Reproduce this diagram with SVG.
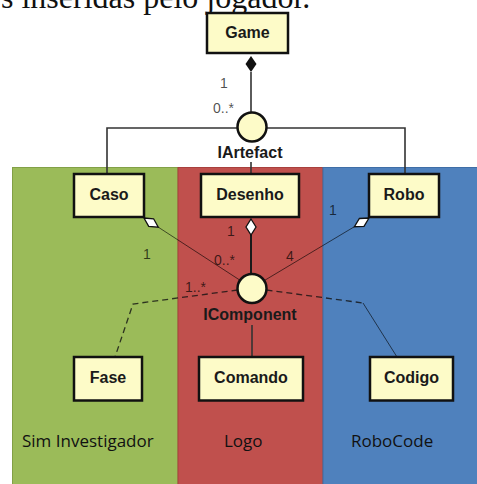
<svg xmlns="http://www.w3.org/2000/svg" width="477" height="484" viewBox="0 0 477 484">
  <style>
    .cls rect { fill: #fdfbc8; stroke: #111; stroke-width: 2.5; }
    .cls text { font-family: "Liberation Sans", Arial, sans-serif; font-weight: bold; font-size: 16px; fill: #1a1a1a; text-anchor: middle; }
    .iface circle { fill: #fdfbc8; stroke: #111; stroke-width: 2.5; }
    .iface text { font-family: "Liberation Sans", Arial, sans-serif; font-weight: bold; font-size: 16px; fill: #1a1a1a; text-anchor: middle; }
    .mult { font-family: "Liberation Sans", Arial, sans-serif; font-size: 14px; fill: #000; fill-opacity: 0.7; }
    .lane { font-family: "Open Sans", "Liberation Sans", sans-serif; font-size: 17px; fill: #111; }
    .solid { fill: none; stroke: #333; stroke-width: 1.6; }
    .thin { fill: none; stroke: #000; stroke-opacity: 0.6; stroke-width: 1; }
    .dash { fill: none; stroke: #111; stroke-opacity: 0.8; stroke-width: 1.3; stroke-dasharray: 6 4; }
  </style>

  <!-- caption line cut at the top -->
  <text x="1" y="8" font-family="'Liberation Serif', 'Times New Roman', serif" font-size="32" fill="#111">s inseridas pelo jogador.</text>

  <!-- coloured lanes -->
  <g id="lanes">
    <rect x="12.5" y="167.5" width="165.5" height="320" fill="#9bbb59" stroke="#82a046" stroke-width="1"/>
    <rect x="178" y="167.5" width="145" height="320" fill="#c0504d" stroke="#a8403d" stroke-width="1"/>
    <rect x="323" y="167.5" width="160" height="320" fill="#4f81bd" stroke="#3f6ea6" stroke-width="1"/>
    <text class="lane" x="22" y="447">Sim Investigador</text>
    <text class="lane" x="224" y="447">Logo</text>
    <text class="lane" x="351" y="447">RoboCode</text>
  </g>

  <!-- connectors -->
  <g id="connectors">
    <!-- Game composition -->
    <line class="solid" x1="251" y1="72" x2="251" y2="113"/>
    <polygon points="251,56 256.5,64 251,72 245.5,64" fill="#111"/>
    <!-- IArtefact realizations -->
    <polyline class="solid" points="107,174 107,128 405,128 405,174"/>
    <line class="solid" x1="251" y1="162" x2="251" y2="174"/>
    <!-- aggregations to IComponent -->
    <line class="thin" x1="158.3" y1="227.2" x2="239.8" y2="280.1"/>
    <polygon points="144,218 153.6,218.8 158.3,227.2 148.7,226.4" fill="#fff" stroke="#111" stroke-width="1.3"/>
    <line x1="251" y1="235" x2="251" y2="274" stroke="#1a1a1a" stroke-width="2"/>
    <polygon points="251,219 256,227 251,235 246,227" fill="#fff" stroke="#111" stroke-width="1.3"/>
    <line class="thin" x1="354.4" y1="226.7" x2="264.4" y2="280.5"/>
    <polygon points="369,218 359.4,218.5 354.4,226.7 364,226.3" fill="#fff" stroke="#111" stroke-width="1.3"/>
    <!-- IComponent dependencies -->
    <polyline class="dash" points="237.5,290 133,304 115,357"/>
    <line class="dash" x1="266.5" y1="290" x2="363" y2="303"/>
    <line class="thin" x1="363" y1="303" x2="397" y2="357"/>
    <line class="solid" x1="252" y1="325" x2="252" y2="357"/>
    <!-- multiplicities -->
    <text class="mult" x="220" y="88">1</text>
    <text class="mult" x="213" y="113">0..*</text>
    <text class="mult" x="143" y="259">1</text>
    <text class="mult" x="227" y="236">1</text>
    <text class="mult" x="214" y="265">0..*</text>
    <text class="mult" x="286" y="261">4</text>
    <text class="mult" x="329" y="215">1</text>
    <text class="mult" x="185" y="292">1..*</text>
  </g>

  <g id="game" class="cls">
    <rect x="207" y="13" width="81" height="40"/>
    <text x="247.5" y="38">Game</text>
  </g>

  <g id="iartefact" class="iface">
    <circle cx="252" cy="127" r="14.5"/>
    <text x="250" y="158">IArtefact</text>
  </g>

  <g id="caso" class="cls">
    <rect x="74" y="174" width="70" height="43"/>
    <text x="109" y="200">Caso</text>
  </g>
  <g id="desenho" class="cls">
    <rect x="201" y="174" width="98" height="43"/>
    <text x="250" y="200">Desenho</text>
  </g>
  <g id="robo" class="cls">
    <rect x="369" y="174" width="70" height="43"/>
    <text x="404" y="200">Robo</text>
  </g>

  <g id="icomponent" class="iface">
    <circle cx="252" cy="288.5" r="14.5"/>
    <text x="250" y="320">IComponent</text>
  </g>

  <g id="fase" class="cls">
    <rect x="74" y="357" width="68" height="43.5"/>
    <text x="108" y="383">Fase</text>
  </g>
  <g id="comando" class="cls">
    <rect x="199" y="357" width="104" height="43.5"/>
    <text x="251" y="383">Comando</text>
  </g>
  <g id="codigo" class="cls">
    <rect x="370" y="357" width="83" height="43.5"/>
    <text x="411.5" y="383">Codigo</text>
  </g>
</svg>
